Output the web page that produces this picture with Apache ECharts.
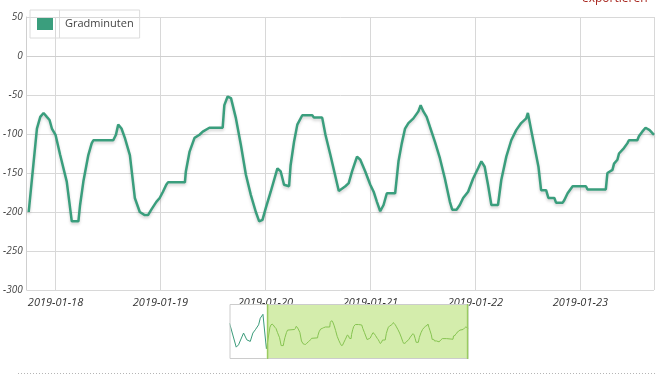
<!DOCTYPE html>
<html>
<head>
<meta charset="utf-8">
<script src="https://cdn.jsdelivr.net/npm/echarts@6/dist/echarts.min.js"></script>
<style>
	html, body { margin: 0; padding: 0; background: #fff; }
	#chart { width: 668px; height: 377px; }
</style>
</head>
<body>
<div id="chart"></div>
<script>
// Zeitpunkte der Messwerte
var zeiten = [
	'2019-01-16 15:00', '2019-01-16 19:47', '2019-01-16 21:25', '2019-01-17 00:59', '2019-01-17 03:20',
	'2019-01-17 05:46', '2019-01-17 07:36', '2019-01-17 09:20', '2019-01-17 11:41', '2019-01-17 12:53',
	'2019-01-17 14:46', '2019-01-17 17:13',
	'2019-01-17 17:52', '2019-01-17 19:45', '2019-01-17 20:31', '2019-01-17 21:16', '2019-01-17 22:01',
	'2019-01-17 22:38', '2019-01-17 23:10', '2019-01-18 00:00', '2019-01-18 01:04', '2019-01-18 02:34',
	'2019-01-18 03:43', '2019-01-18 05:14', '2019-01-18 05:37', '2019-01-18 06:22', '2019-01-18 07:30',
	'2019-01-18 08:16', '2019-01-18 08:39', '2019-01-18 13:12', '2019-01-18 13:49', '2019-01-18 14:20',
	'2019-01-18 15:05', '2019-01-18 15:51', '2019-01-18 17:00', '2019-01-18 18:08', '2019-01-18 19:16',
	'2019-01-18 20:24', '2019-01-18 21:09', '2019-01-18 21:54', '2019-01-18 23:03', '2019-01-18 23:49',
	'2019-01-19 00:34', '2019-01-19 01:19', '2019-01-19 01:42', '2019-01-19 05:35', '2019-01-19 05:48',
	'2019-01-19 06:38', '2019-01-19 07:47', '2019-01-19 08:55', '2019-01-19 09:40', '2019-01-19 11:11',
	'2019-01-19 14:13', '2019-01-19 14:36', '2019-01-19 15:21', '2019-01-19 16:07', '2019-01-19 17:15',
	'2019-01-19 18:23', '2019-01-19 19:31', '2019-01-19 20:39', '2019-01-19 21:48', '2019-01-19 22:34',
	'2019-01-19 23:19', '2019-01-20 00:04', '2019-01-20 01:12', '2019-01-20 02:44', '2019-01-20 03:29',
	'2019-01-20 04:15', '2019-01-20 05:24', '2019-01-20 05:45', '2019-01-20 06:32', '2019-01-20 07:17',
	'2019-01-20 08:25', '2019-01-20 10:42', '2019-01-20 11:05', '2019-01-20 12:58', '2019-01-20 13:43',
	'2019-01-20 14:51', '2019-01-20 16:46', '2019-01-20 18:16', '2019-01-20 19:02', '2019-01-20 19:48',
	'2019-01-20 20:56', '2019-01-20 21:41', '2019-01-20 22:49', '2019-01-20 23:58', '2019-01-21 00:44',
	'2019-01-21 01:29', '2019-01-21 02:14', '2019-01-21 03:00', '2019-01-21 03:45', '2019-01-21 05:39',
	'2019-01-21 06:25', '2019-01-21 07:10', '2019-01-21 07:55', '2019-01-21 08:41', '2019-01-21 09:50',
	'2019-01-21 10:58', '2019-01-21 11:29', '2019-01-21 12:06', '2019-01-21 12:51', '2019-01-21 13:37',
	'2019-01-21 14:45', '2019-01-21 15:53', '2019-01-21 17:01', '2019-01-21 18:10', '2019-01-21 18:42',
	'2019-01-21 19:41', '2019-01-21 20:26', '2019-01-21 21:12', '2019-01-21 22:20', '2019-01-21 23:29',
	'2019-01-22 00:37', '2019-01-22 01:22', '2019-01-22 02:07', '2019-01-22 02:53', '2019-01-22 03:39',
	'2019-01-22 05:10', '2019-01-22 05:55', '2019-01-22 07:04', '2019-01-22 08:12', '2019-01-22 09:20',
	'2019-01-22 10:28', '2019-01-22 11:37', '2019-01-22 12:00', '2019-01-22 12:45', '2019-01-22 13:30',
	'2019-01-22 14:25', '2019-01-22 15:01', '2019-01-22 16:10', '2019-01-22 16:41', '2019-01-22 18:03',
	'2019-01-22 18:26', '2019-01-22 19:58', '2019-01-22 20:19', '2019-01-22 21:05', '2019-01-22 22:14',
	'2019-01-23 01:16', '2019-01-23 01:38', '2019-01-23 05:49', '2019-01-23 06:11', '2019-01-23 07:20',
	'2019-01-23 07:42', '2019-01-23 08:28', '2019-01-23 08:50', '2019-01-23 09:58', '2019-01-23 10:44',
	'2019-01-23 11:06', '2019-01-23 13:01', '2019-01-23 13:23', '2019-01-23 14:09', '2019-01-23 14:54',
	'2019-01-23 15:50', '2019-01-23 16:50'
];
// Gradminuten je Zeitpunkt
var gradminuten = [
	-67, -222, -207, -131, -175,
	-185, -131, -110, -78, -35,
	-10, -232,
	-200, -93, -78, -73, -78,
	-82, -93, -101, -127, -161,
	-212, -212, -191, -161, -127,
	-112, -108, -108, -101, -88,
	-93, -105, -127, -182, -200,
	-204, -204, -197, -187, -182,
	-174, -165, -162, -162, -148,
	-123, -105, -101, -97, -92,
	-92, -63, -52, -54, -80,
	-114, -152, -178, -200, -212,
	-210, -195, -174, -144, -148,
	-165, -167, -140, -110, -88,
	-76, -76, -79, -79, -101,
	-127, -173, -167, -163, -148,
	-129, -133, -148, -165, -174,
	-187, -199, -191, -176, -176,
	-135, -112, -93, -86, -80,
	-71, -63, -71, -78, -91,
	-110, -131, -157, -187, -197,
	-197, -191, -182, -174, -157,
	-144, -135, -142, -165, -191,
	-191, -159, -129, -108, -95,
	-86, -80, -73, -95, -116,
	-142, -172, -172, -182, -182,
	-188, -188, -185, -176, -167,
	-167, -171, -171, -150, -146,
	-138, -133, -125, -118, -112,
	-108, -108, -103, -97, -92,
	-95, -101
];
var ausschnittStart = '2019-01-17 17:24';
var yMin = -300, yMax = 50, yStep = 50;

function parseZeit(s) {
	var p = s.split(/[- :]/);
	return new Date(+p[0], +p[1] - 1, +p[2], +p[3], +p[4]).getTime();
}
function pad(n) { return n < 10 ? '0' + n : '' + n; }

var daten = [];
for (var i = 0; i < zeiten.length; i++) {
	daten.push([parseZeit(zeiten[i]), gradminuten[i]]);
}

var myChart = echarts.init(document.getElementById('chart'));
var option = {
	animation: false,
	textStyle: { fontFamily: 'Open Sans' },
	legend: {
		left: 30, top: 10,
		padding: [8, 6, 8, 7],
		itemWidth: 16, itemHeight: 12,
		borderColor: '#dcdcdc', borderWidth: 1,
		icon: 'rect',
		textStyle: { fontSize: 11, color: '#444', padding: [0, 0, 0, 7] },
		data: ['Gradminuten']
	},
	grid: { left: 23, right: 14, top: 17, bottom: 87 },
	xAxis: {
		type: 'time',
		minInterval: 86400000,
		maxInterval: 86400000,
		axisLine: { lineStyle: { color: '#cfcfcf' } },
		axisTick: { show: false },
		axisLabel: {
			fontSize: 11, fontStyle: 'italic', color: '#333', margin: 7,
			showMinLabel: false, showMaxLabel: false,
			formatter: function (v) {
				var d = new Date(v);
				return d.getFullYear() + '-' + pad(d.getMonth() + 1) + '-' + pad(d.getDate());
			}
		},
		splitLine: { show: true, lineStyle: { color: '#d8d8d8' } }
	},
	yAxis: {
		type: 'value',
		min: yMin, max: yMax, interval: yStep,
		axisLine: { show: true, lineStyle: { color: '#cfcfcf' } },
		axisTick: { show: false },
		axisLabel: { fontSize: 10, fontStyle: 'italic', color: '#444', margin: 4 },
		splitLine: { lineStyle: { color: '#d8d8d8' } }
	},
	dataZoom: [{
		type: 'slider',
		xAxisIndex: 0,
		filterMode: 'filter',
		startValue: parseZeit(ausschnittStart),
		endValue: daten[daten.length - 1][0],
		left: 227, width: 239, top: 304, height: 55,
		backgroundColor: '#fff',
		borderColor: '#cccccc',
		fillerColor: 'rgba(170,220,90,0.5)',
		dataBackground: {
			lineStyle: { color: '#3b9b7a', width: 1, opacity: 1 },
			areaStyle: { opacity: 0 }
		},
		selectedDataBackground: {
			lineStyle: { color: '#62aa48', width: 1, opacity: 1 },
			areaStyle: { opacity: 0 }
		},
		handleIcon: 'path://M0,0 L1,0 L1,40 L0,40 Z',
		handleSize: '100%',
		handleStyle: { color: '#9acb62', borderWidth: 0 },
		moveHandleSize: 0,
		moveHandleStyle: { opacity: 0 },
		showDetail: false,
		showDataShadow: true,
		brushSelect: false
	}],
	series: [{
		name: 'Gradminuten',
		type: 'line',
		showSymbol: false,
		color: '#3a9e7d',
		lineStyle: { width: 2.5, shadowColor: 'rgba(0,0,0,0.18)', shadowBlur: 3, shadowOffsetY: 2 },
		data: daten
	}],
	graphic: [
		{ type: 'line', shape: { x1: 59.5, y1: 10, x2: 59.5, y2: 38 }, style: { stroke: '#dcdcdc', lineWidth: 1 } },
		{ type: 'line', shape: { x1: 18, y1: 373.5, x2: 655, y2: 373.5 }, style: { stroke: '#b5b5b5', lineWidth: 1, lineDash: [1, 2] } },
		{ type: 'text', left: 582, top: -7, style: { text: 'exportieren', fill: '#a8261e', font: '12px "Open Sans"' } }
	]
};
myChart.setOption(option);
</script>
</body>
</html>
